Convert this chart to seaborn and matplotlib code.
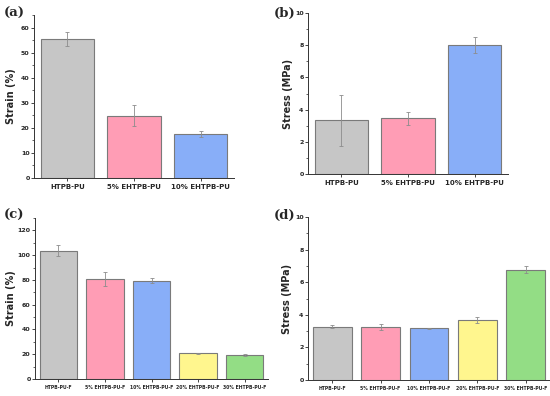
import matplotlib
matplotlib.use("Agg")
import matplotlib.pyplot as plt
import numpy as np
import pandas as pd
import seaborn as sns
from matplotlib.ticker import AutoMinorLocator

# ---------------------------------------------------------------------------
# Data
# ---------------------------------------------------------------------------
pu_labels = ["HTPB-PU", "5% EHTPB-PU", "10% EHTPB-PU"]
pu_strain = [55.4, 24.9, 17.6]
pu_strain_err = [2.9, 4.1, 1.2]
pu_stress = [3.34, 3.46, 8.01]
pu_stress_err = [1.58, 0.39, 0.47]

puf_labels = ["HTPB-PU-F", "5% EHTPB-PU-F", "10% EHTPB-PU-F",
              "20% EHTPB-PU-F", "30% EHTPB-PU-F"]
puf_strain = [103.7, 80.9, 79.5, 20.9, 19.5]
puf_strain_err = [4.5, 5.8, 1.9, 0.4, 1.0]
puf_stress = [3.28, 3.26, 3.16, 3.67, 6.76]
puf_stress_err = [0.12, 0.20, 0.06, 0.18, 0.21]

colors = ["#C6C6C6", "#FF9DB5", "#88AEF8", "#FFF68E", "#93DD85"]

W, H = 550, 396

sns.set_theme(style="ticks")
plt.rcParams["font.family"] = ["DejaVu Sans"]

fig = plt.figure(figsize=(W / 100, H / 100), dpi=100)


def panel(box, labels, values, errs, ylim, ystep, ylabel, ylab_x,
          tag, tag_xy, xfs):
    # box = (left, top, right, bottom) in pixels from top-left
    l, t, r, b = box
    ax = fig.add_axes([l / W, 1 - b / H, (r - l) / W, (b - t) / H])
    df = pd.DataFrame({"sample": labels, "value": values})
    sns.barplot(
        data=df, x="sample", y="value", hue="sample",
        palette=colors[: len(labels)], saturation=1, errorbar=None,
        legend=False, width=0.8, edgecolor="#7a7a7a", linewidth=0.8, ax=ax,
    )
    ax.errorbar(
        np.arange(len(labels)), values, yerr=errs, fmt="none",
        ecolor="#8c8c8c", elinewidth=0.6, capsize=1.5, capthick=0.6,
    )
    ax.set_xlim(-0.5, len(labels) - 0.5)
    ax.set_ylim(*ylim)
    ax.set_yticks(np.arange(0, ylim[1] + 0.01, ystep))
    ax.yaxis.set_minor_locator(AutoMinorLocator(2))
    sns.despine(ax=ax)
    for s in ("left", "bottom"):
        ax.spines[s].set_linewidth(0.7)
        ax.spines[s].set_color("#333333")
    ax.tick_params(axis="both", which="major", length=2, width=0.6,
                   pad=1.2, labelsize=4.5)
    ax.tick_params(axis="y", which="minor", length=1.2, width=0.5)
    ax.tick_params(axis="x", labelsize=xfs, pad=2.5)
    for tl in ax.get_xticklabels() + ax.get_yticklabels():
        tl.set_fontweight("bold")
    ax.set_xlabel("")
    ax.set_ylabel(ylabel, fontsize=7, fontweight="bold")
    # ylab_x is the right edge of the rotated label, in pixels
    ax.yaxis.set_label_coords((ylab_x - l) / (r - l), 0.5)
    fig.text(tag_xy[0] / W, 1 - tag_xy[1] / H, tag, ha="left",
             va="center", fontsize=9.5, fontweight="bold",
             family="DejaVu Serif")
    return ax


panel((34, 15, 234, 178), pu_labels, pu_strain, pu_strain_err,
      (0, 65), 10, "Strain (%)", 16, "(a)", (4, 13), 5)
panel((308, 13, 508, 174), pu_labels, pu_stress, pu_stress_err,
      (0, 10), 2, "Stress (MPa)", 293, "(b)", (274, 13), 5)
panel((35, 218, 268, 379), puf_labels, puf_strain, puf_strain_err,
      (0, 130), 20, "Strain (%)", 16, "(c)", (4, 215), 3.3)
panel((308, 217, 550, 380), puf_labels, puf_stress, puf_stress_err,
      (0, 10), 2, "Stress (MPa)", 292, "(d)", (274, 215), 3.3)

fig.savefig("out.png", dpi=100)
